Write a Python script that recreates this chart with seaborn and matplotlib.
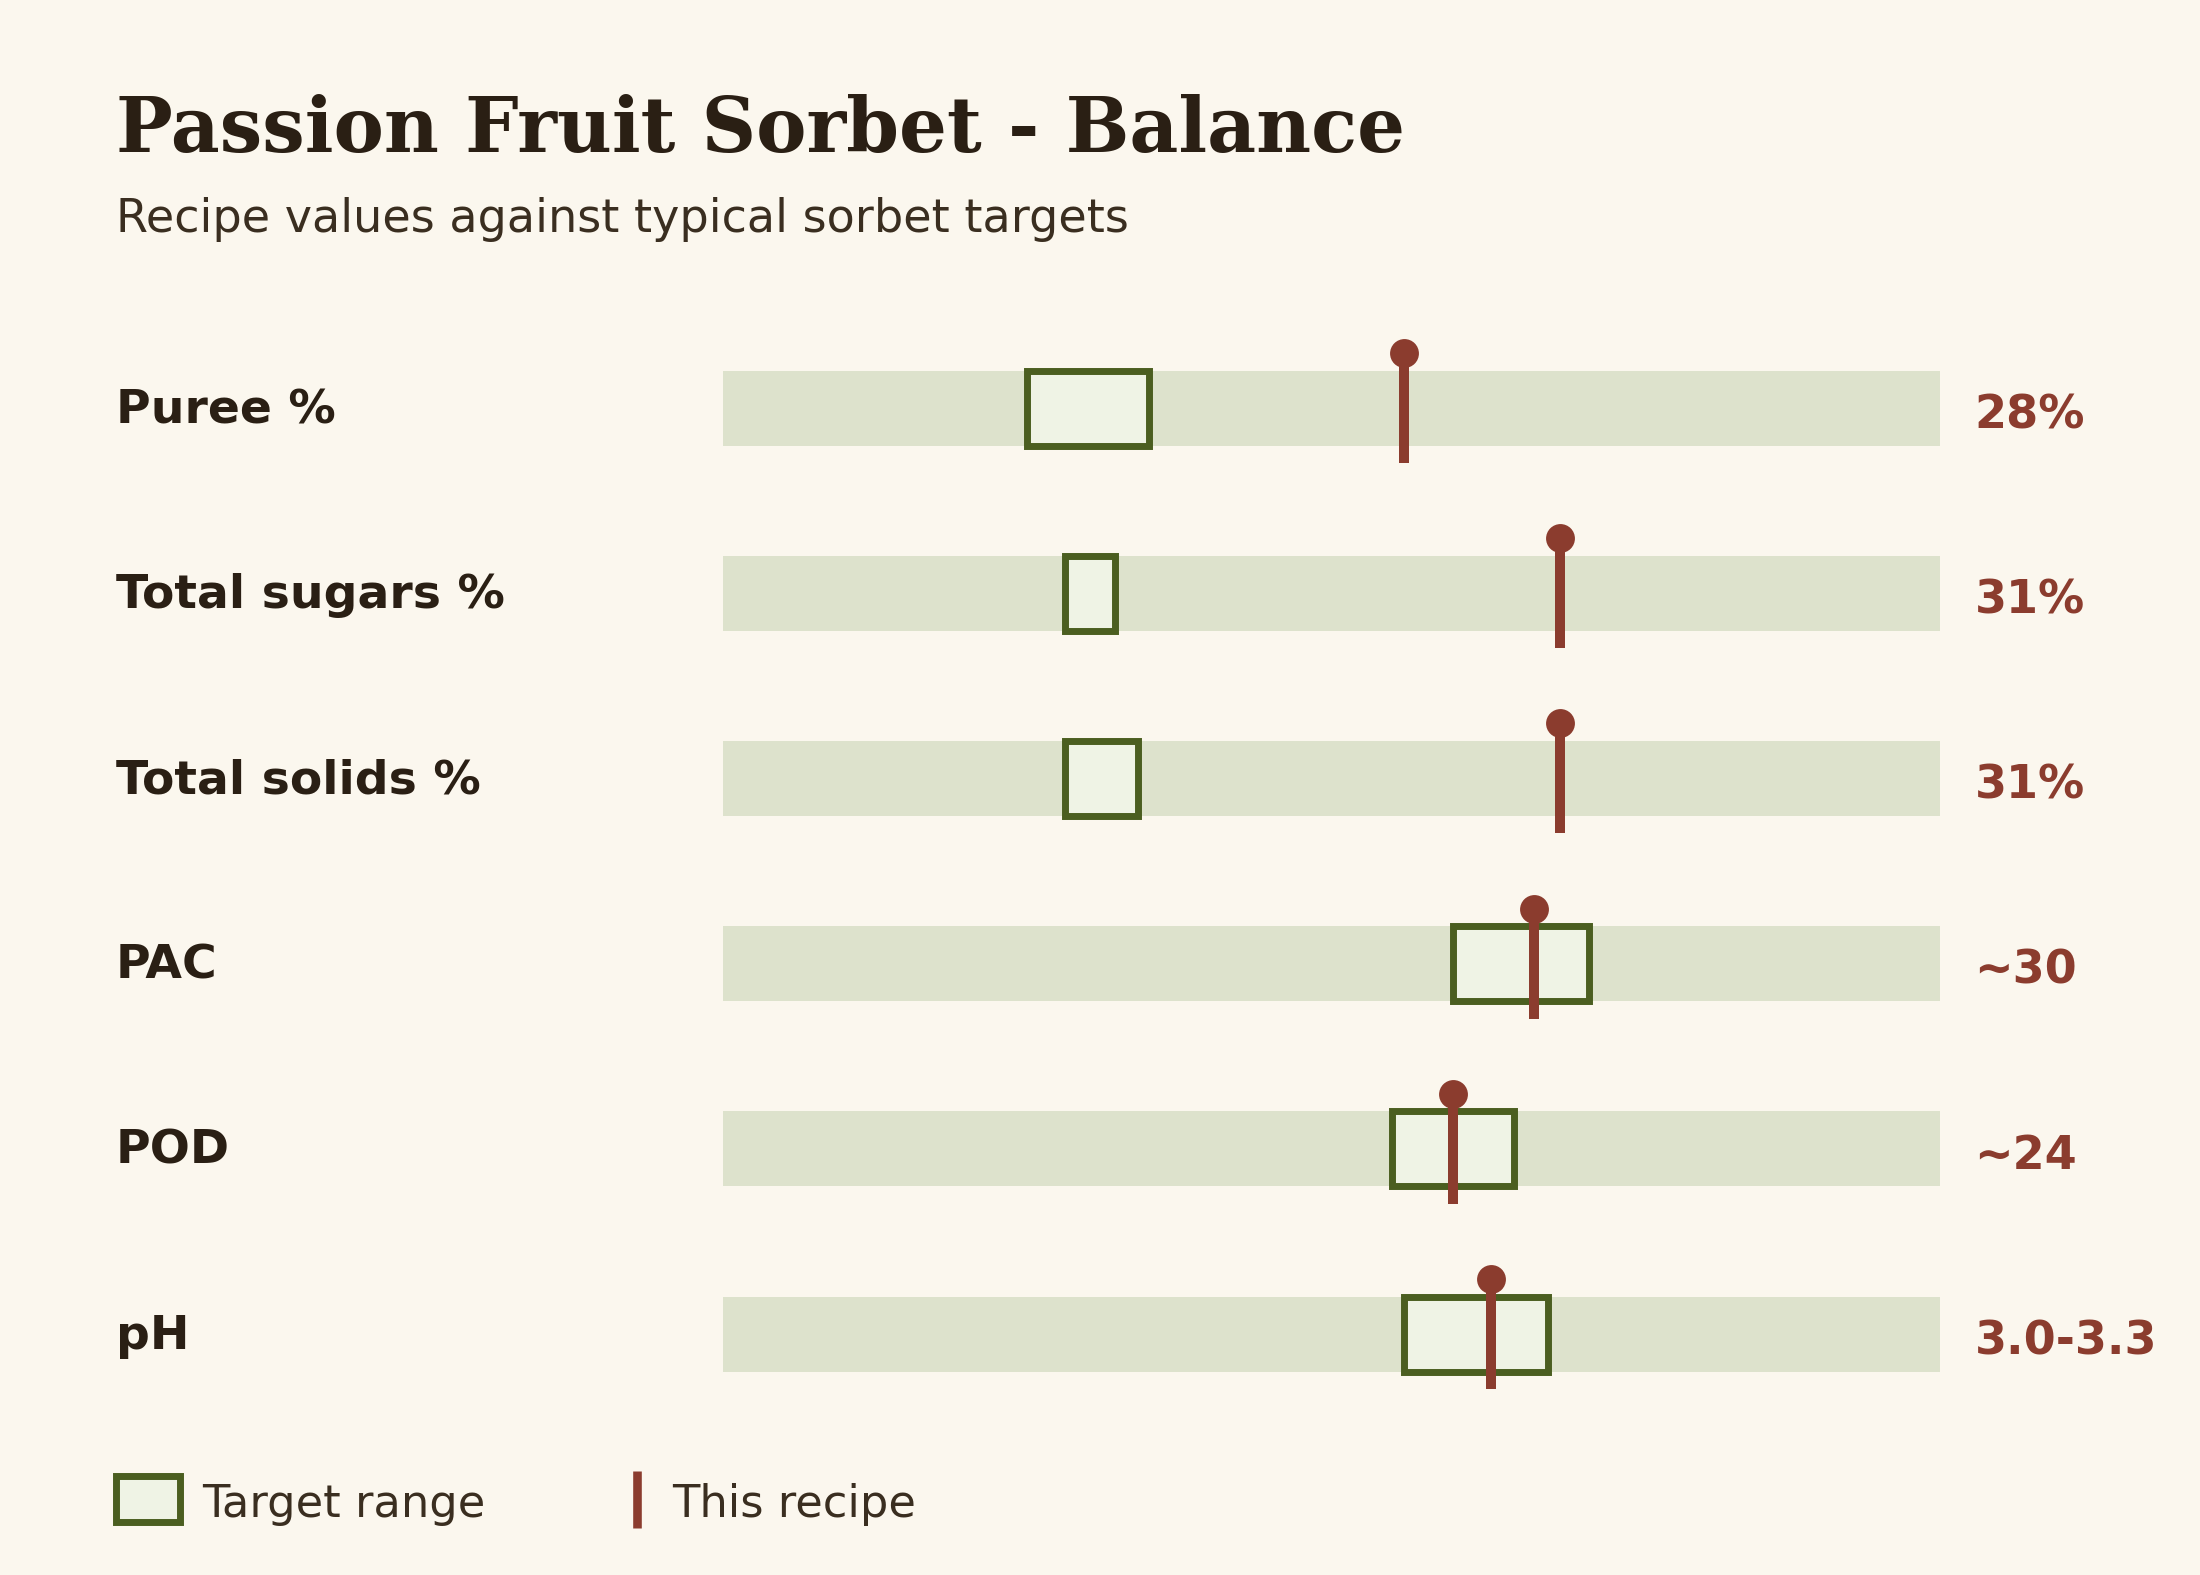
import seaborn as sns
import matplotlib.pyplot as plt
import matplotlib.transforms as mtransforms
from matplotlib.patches import Rectangle
from matplotlib.lines import Line2D

# Rows of the chart
labels = ["Puree %", "Total sugars %", "Total solids %", "PAC", "POD", "pH"]
value_text = ["28%", "31%", "31%", "~30", "~24", "3.0-3.3"]

# Positions on a 0-100 track (no axis is shown)
target_lo = [25.0, 28.1, 28.1, 60.0, 55.0, 56.0]
target_hi = [35.0, 32.2, 34.1, 71.2, 65.0, 67.8]
recipe = [56.0, 68.8, 68.8, 66.7, 60.0, 63.1]
track_max = [100] * len(labels)

# Colours
bg = "#FBF7EE"
track_col = "#DDE2CC"
box_fill = "#EFF3E5"
box_edge = "#4B5E20"
mark_col = "#8B3C2E"
ink = "#2A1F14"
ink_soft = "#3A2E20"

sns.set_theme(style="white", rc={"figure.facecolor": bg, "axes.facecolor": bg})
plt.rcParams["font.family"] = ["DejaVu Sans"]

fig = plt.figure(figsize=(11, 7.875), dpi=200)
ax = fig.add_axes([0.3287, 0.0942, 0.5529, 0.7055])

bar_h = 0.405
rows = list(range(len(labels)))

########################################################################
# Background tracks
########################################################################
sns.barplot(x=track_max, y=labels, orient="h", color=track_col,
            saturation=1, width=bar_h, linewidth=0, ax=ax, zorder=1)

########################################################################
# Target ranges
########################################################################
widths = [hi - lo for lo, hi in zip(target_lo, target_hi)]
ax.barh(rows, widths, left=target_lo, height=bar_h, color=box_fill,
        edgecolor=box_edge, linewidth=2.5, zorder=2)

########################################################################
# This recipe: stem + head
########################################################################
stem = 0.297
ax.vlines(recipe, [r - stem for r in rows], [r + stem for r in rows],
          color=mark_col, linewidth=3.6, zorder=3, capstyle="butt")
ax.scatter(recipe, [r - stem for r in rows], s=108, color=mark_col,
           linewidths=0, zorder=4)

ax.set_xlim(0, 100)
ax.set_ylim(len(labels) - 0.5, -0.5)
ax.set_xticks([])
ax.set_yticks([])
ax.set_xlabel("")
ax.set_ylabel("")
sns.despine(ax=ax, left=True, bottom=True)

# Row labels and values
trans = mtransforms.blended_transform_factory(fig.transFigure, ax.transData)
for r, lab, val in zip(rows, labels, value_text):
    ax.text(0.0527, r + 0.081, lab, transform=trans, ha="left",
            va="baseline", fontsize=17, fontweight="bold", color=ink)
    ax.text(0.8975, r + 0.108, val, transform=trans, ha="left",
            va="baseline", fontsize=16.6, fontweight="bold", color=mark_col)

# Title and subtitle
fig.text(0.0527, 1 - 151.7 / 1575, "Passion Fruit Sorbet - Balance",
         fontsize=27.2, fontweight="bold", family="DejaVu Serif", color=ink,
         ha="left", va="baseline")
fig.text(0.0527, 1 - 231.7 / 1575, "Recipe values against typical sorbet targets",
         fontsize=16.6, color=ink_soft, ha="left", va="baseline")

# Legend
fig.add_artist(Rectangle((116 / 2200, 1 - 1522 / 1575), 64 / 2200, 46 / 1575,
                         transform=fig.transFigure, facecolor=box_fill,
                         edgecolor=box_edge, linewidth=2.5))
fig.text(202 / 2200, 1 - 1517 / 1575, "Target range", fontsize=16.1,
         color=ink_soft, ha="left", va="baseline")
fig.add_artist(Line2D([637 / 2200, 637 / 2200], [1 - 1528 / 1575, 1 - 1471 / 1575],
                      transform=fig.transFigure, color=mark_col, linewidth=3.1,
                      solid_capstyle="butt"))
fig.text(672 / 2200, 1 - 1517 / 1575, "This recipe", fontsize=16.1,
         color=ink_soft, ha="left", va="baseline")

plt.savefig("out.png", dpi=200, facecolor=bg)
